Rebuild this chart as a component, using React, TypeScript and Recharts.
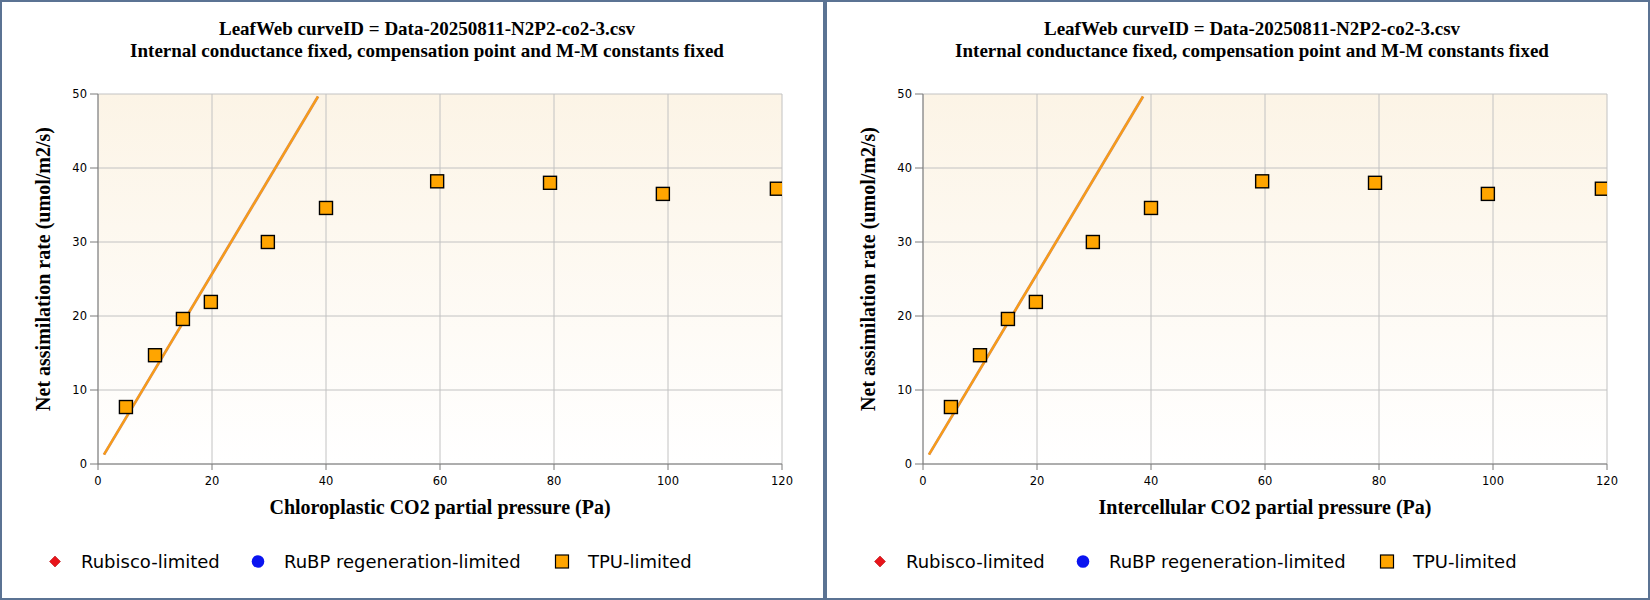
import { ComposedChart, Line, Scatter, XAxis, YAxis, CartesianGrid } from 'recharts';

const xTicks = [0, 20, 40, 60, 80, 100, 120];
const yTicks = [0, 10, 20, 30, 40, 50];

// TPU-limited observations (Pa, umol/m2/s)
const tpuCi = [4.9, 10, 14.9, 19.8, 29.8, 40, 59.5, 79.3, 99.1, 119.1];
const tpuA = [7.7, 14.7, 19.6, 21.9, 30.0, 34.6, 38.2, 38.0, 36.5, 37.2];

// fitted Rubisco-limited line
const fitCi = [1.05, 38.6];
const fitA = [1.27, 49.65];

const titleLines = [
  'LeafWeb curveID = Data-20250811-N2P2-co2-3.csv',
  'Internal conductance fixed, compensation point and M-M constants fixed',
];
const yTitle = 'Net assimilation rate (umol/m2/s)';
const xTitles = [
  'Chloroplastic CO2 partial pressure (Pa)',
  'Intercellular CO2 partial pressure (Pa)',
];

const legendItems = [
  { name: 'Rubisco-limited', marker: 'diamond', color: '#e8141b' },
  { name: 'RuBP regeneration-limited', marker: 'circle', color: '#0a14f0' },
  { name: 'TPU-limited', marker: 'square', color: '#ffa500' },
];

const tpuData = tpuCi.map((x, i) => ({ x, y: tpuA[i] }));
const fitData = fitCi.map((x, i) => ({ x, y: fitA[i] }));

const SERIF = '"Liberation Serif", "Times New Roman", serif';
const SANS = '"DejaVu Sans", Verdana, sans-serif';
const BORDER = '#5b7393';

const SquareDot = (props: any) => {
  const { cx, cy } = props;
  if (cx == null || cy == null) return null;
  return <rect x={cx - 6.5} y={cy - 6.5} width={13} height={13} fill="#ffa500" stroke="#000" strokeWidth={1.4} />;
};

function LegendMarker({ marker, color, x }: { marker: string; color: string; x: number }) {
  if (marker === 'diamond') {
    return <polygon points={`${x},14 ${x + 5.5},19.5 ${x},25 ${x - 5.5},19.5`} fill={color} stroke="#a00" strokeWidth={0.5} />;
  }
  if (marker === 'circle') {
    return <circle cx={x} cy={19.5} r={6.3} fill={color} />;
  }
  return <rect x={x - 6.5} y={13} width={13} height={13} fill={color} stroke="#000" strokeWidth={1.2} />;
}

const legendX = [53, 256, 560];

function Panel({ xTitle }: { xTitle: string }) {
  return (
    <div
      style={{
        position: 'relative',
        width: 825,
        height: 600,
        boxSizing: 'border-box',
        border: `2px solid ${BORDER}`,
        background: '#fff',
      }}
    >
      {titleLines.map((t, i) => (
        <div
          key={i}
          style={{
            position: 'absolute',
            left: 425,
            top: 16 + i * 22,
            transform: 'translateX(-50%)',
            whiteSpace: 'nowrap',
            fontFamily: SERIF,
            fontWeight: 'bold',
            fontSize: 19,
            lineHeight: '22px',
            color: '#000',
          }}
        >
          {t}
        </div>
      ))}
      <ComposedChart width={821} height={596} margin={{ top: 92, right: 41, bottom: 0, left: 0 }}>
        <CartesianGrid stroke="#c2c2c2" fill="url(#plotBg)" fillOpacity={1} />
        <XAxis
          type="number"
          dataKey="x"
          domain={[0, 120]}
          ticks={xTicks}
          allowDataOverflow
          height={134}
          tickSize={6}
          tickMargin={7}
          stroke="#7a7a7a"
          tick={{ fontSize: 11.5, fill: '#000', fontFamily: SANS }}
          label={(p: any) => {
            const vb = p.viewBox;
            return (
              <text
                x={vb.x + vb.width / 2}
                y={512}
                textAnchor="middle"
                fontFamily={SERIF}
                fontWeight="bold"
                fontSize={20}
                fill="#000"
              >
                {xTitle}
              </text>
            );
          }}
        />
        <YAxis
          type="number"
          dataKey="y"
          domain={[0, 50]}
          ticks={yTicks}
          allowDataOverflow
          width={96}
          tickSize={8}
          tickMargin={3}
          stroke="#7a7a7a"
          tick={{ fontSize: 11.5, fill: '#000', fontFamily: SANS }}
          label={() => (
            <text
              x={48}
              y={267}
              transform="rotate(-90, 48, 267)"
              textAnchor="middle"
              fontFamily={SERIF}
              fontWeight="bold"
              fontSize={20}
              fill="#000"
            >
              {yTitle}
            </text>
          )}
        />
        <Line data={fitData} dataKey="y" stroke="#c98a6a" strokeWidth={2.8} dot={false} isAnimationActive={false} />
        <Line data={fitData} dataKey="y" stroke="#fa9d14" strokeWidth={2} dot={false} isAnimationActive={false} />
        <Scatter data={tpuData} dataKey="y" shape={SquareDot} isAnimationActive={false} />
      </ComposedChart>
      <svg width={821} height={40} style={{ position: 'absolute', left: 0, top: 540 }}>
        {legendItems.map((it, i) => (
          <g key={it.name}>
            <LegendMarker marker={it.marker} color={it.color} x={legendX[i]} />
            <text x={legendX[i] + 26} y={26} fontFamily={SANS} fontSize={18} fill="#000">
              {it.name}
            </text>
          </g>
        ))}
      </svg>
    </div>
  );
}

export default function App() {
  return (
    <div style={{ position: 'absolute', left: 0, top: 0, width: 1650, height: 600, display: 'flex', background: '#fff' }}>
      <svg width={0} height={0} style={{ position: 'absolute' }}>
        <defs>
          <linearGradient id="plotBg" x1="0" y1="0" x2="0" y2="1">
            <stop offset="0%" stopColor="#fcf4e6" />
            <stop offset="100%" stopColor="#ffffff" />
          </linearGradient>
        </defs>
      </svg>
      {xTitles.map((t) => (
        <Panel key={t} xTitle={t} />
      ))}
    </div>
  );
}
